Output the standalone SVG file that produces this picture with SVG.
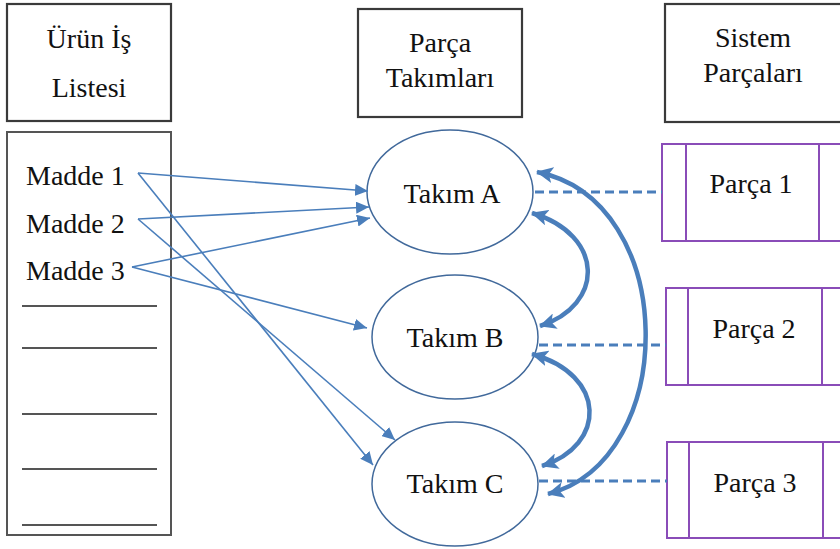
<svg xmlns="http://www.w3.org/2000/svg" width="840" height="549" viewBox="0 0 840 549">
<style>
.hdr{fill:#fff;stroke:#3a3a3a;stroke-width:2.2}
.lst{fill:#fff;stroke:#555;stroke-width:2}
.ln{stroke:#555;stroke-width:2}
.ell{fill:#fff;stroke:#41699b;stroke-width:1.5}
.prt{fill:#fff;stroke:#8a4cb8;stroke-width:2}
.t{font-family:"Liberation Serif","Times New Roman",serif;font-size:28px;fill:#111;text-anchor:middle}
.tl{font-family:"Liberation Serif","Times New Roman",serif;font-size:28px;fill:#111}
.thin{fill:none;stroke:#4a7ebb;stroke-width:1.6;marker-end:url(#ah)}
.thick{fill:none;stroke:#4a7ebb;stroke-width:4.5;marker-start:url(#bh);marker-end:url(#bh)}
.dash{fill:none;stroke:#4a7ebb;stroke-width:2.8;stroke-dasharray:9 5}
</style>
<defs>
<marker id="ah" markerUnits="userSpaceOnUse" markerWidth="14" markerHeight="12" refX="13" refY="6" orient="auto"><path d="M0,0 L13,6 L0,12 Z" fill="#4a7ebb"/></marker>
<marker id="bh" markerUnits="userSpaceOnUse" markerWidth="18" markerHeight="16" refX="16" refY="8" orient="auto-start-reverse"><path d="M0,0 L17,8 L0,16 L4,8 Z" fill="#4a7ebb"/></marker>
</defs>

<g id="hdr-urun">
<rect class="hdr" x="7" y="4" width="164" height="117"/>
<text class="t" x="89" y="48">Ürün İş</text>
<text class="t" x="89" y="97">Listesi</text>
</g>
<g id="hdr-takim">
<rect class="hdr" x="358" y="9" width="164" height="108"/>
<text class="t" x="440" y="52">Parça</text>
<text class="t" x="440" y="87">Takımları</text>
</g>
<g id="hdr-sistem">
<rect class="hdr" x="665" y="4" width="190" height="118"/>
<text class="t" x="753" y="47">Sistem</text>
<text class="t" x="753" y="82">Parçaları</text>
</g>

<g id="list">
<rect class="lst" x="7" y="132" width="164" height="403"/>
<text class="tl" x="26" y="185">Madde 1</text>
<text class="tl" x="26" y="233">Madde 2</text>
<text class="tl" x="26" y="280">Madde 3</text>
<line class="ln" x1="22" y1="306" x2="157" y2="306"/>
<line class="ln" x1="22" y1="348" x2="157" y2="348"/>
<line class="ln" x1="22" y1="414" x2="157" y2="414"/>
<line class="ln" x1="22" y1="469" x2="157" y2="469"/>
<line class="ln" x1="22" y1="525" x2="157" y2="525"/>
</g>

<g id="takimA">
<ellipse class="ell" cx="450" cy="192" rx="83" ry="62"/>
<text class="t" x="452" y="203">Takım A</text>
</g>
<g id="takimB">
<ellipse class="ell" cx="455" cy="337" rx="83" ry="62"/>
<text class="t" x="455" y="347">Takım B</text>
</g>
<g id="takimC">
<ellipse class="ell" cx="455" cy="484" rx="83" ry="62"/>
<text class="t" x="455" y="493">Takım C</text>
</g>

<g id="parca1">
<rect class="prt" x="662" y="144" width="200" height="97"/>
<line class="prt" x1="686" y1="144" x2="686" y2="241"/>
<line class="prt" x1="819" y1="144" x2="819" y2="241"/>
<text class="t" x="751" y="193">Parça 1</text>
</g>
<g id="parca2">
<rect class="prt" x="666" y="288" width="200" height="97"/>
<line class="prt" x1="688" y1="288" x2="688" y2="385"/>
<line class="prt" x1="822" y1="288" x2="822" y2="385"/>
<text class="t" x="754" y="338">Parça 2</text>
</g>
<g id="parca3">
<rect class="prt" x="667" y="442" width="200" height="96"/>
<line class="prt" x1="689" y1="442" x2="689" y2="538"/>
<line class="prt" x1="823" y1="442" x2="823" y2="538"/>
<text class="t" x="755" y="492">Parça 3</text>
</g>

<g id="connectors">
<line class="thin" x1="138" y1="173" x2="368" y2="191"/>
<line class="thin" x1="138" y1="173" x2="373" y2="465"/>
<line class="thin" x1="138" y1="219" x2="369" y2="207"/>
<line class="thin" x1="138" y1="219" x2="395" y2="440"/>
<line class="thin" x1="132" y1="267" x2="370" y2="218"/>
<line class="thin" x1="132" y1="267" x2="367" y2="328"/>
<path class="thick" d="M532,213 C605,235 605,305 540,326"/>
<path class="thick" d="M532,354 C607,375 607,445 542,466"/>
<path class="thick" d="M537,172 C680,200 680,460 548,494"/>
<line class="dash" x1="535" y1="192" x2="662" y2="192"/>
<line class="dash" x1="539" y1="345" x2="666" y2="345"/>
<line class="dash" x1="539" y1="481" x2="667" y2="481"/>
</g>
</svg>
